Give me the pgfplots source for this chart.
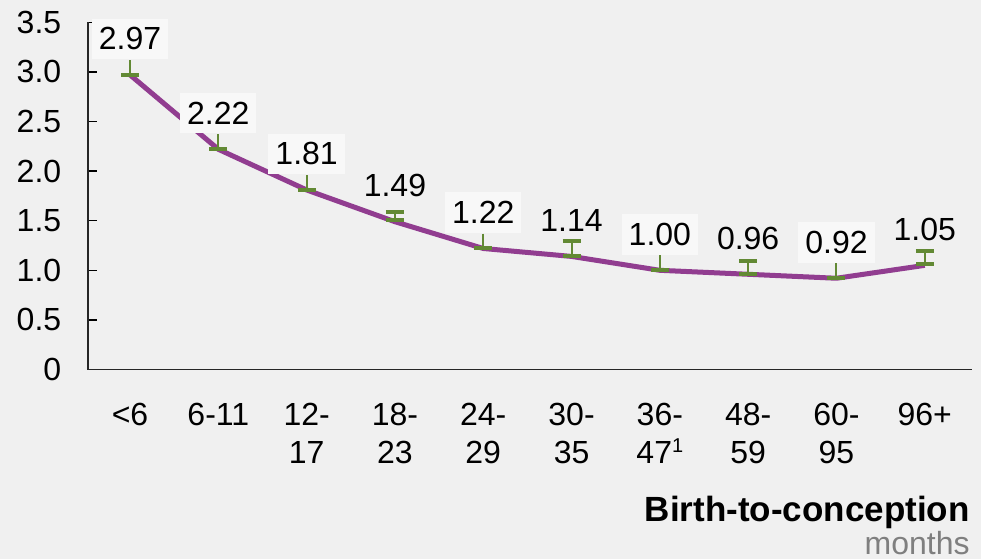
\documentclass[border=0pt]{standalone}
\usepackage{pgfplots}
\pgfplotsset{compat=1.18}
\usepackage{fontspec}
\setmainfont{Liberation Sans}
\definecolor{bg}{HTML}{F0F0F0}
\definecolor{labbg}{HTML}{F8F8F8}
\definecolor{linepurple}{RGB}{145,61,144}
\definecolor{errgreen}{RGB}{98,137,52}
\definecolor{monthgray}{HTML}{7F7F7F}
\newcommand{\lab}{\fontsize{16}{19}\selectfont}
\newcommand{\footsup}[1]{\raisebox{0.62ex}{\fontsize{10}{10}\selectfont #1}}

\begin{document}
\begin{tikzpicture}
\path[use as bounding box, fill=bg] (-44pt,-94.75pt) rectangle (446.5pt,184.75pt);
\begin{axis}[
    scale only axis,
    width=442pt, height=173.6pt,
    xmin=-0.476, xmax=9.535, ymin=0, ymax=3.5,
    axis x line*=bottom, axis y line*=left,
    axis line style={-, line width=0.8pt, black!85},
    tick align=inside, major tick length=4.5pt,
    ytick={0,0.5,1,1.5,2,2.5,3,3.5},
    yticklabels={0,0.5,1.0,1.5,2.0,2.5,3.0,3.5},
    ytick style={line width=0.7pt, black},
    xtick={0,...,9},
    xticklabels={{<6},{6-11},{12-\\17},{18-\\23},{24-\\29},{30-\\35},{36-\\47\footsup{1}},{48-\\59},{60-\\95},{96+}},
    xtick style={draw=none},
    x tick label style={font=\lab, align=center, anchor=north, inner sep=0pt, yshift=-16.6pt},
    y tick label style={font=\lab, anchor=east, inner sep=0pt, xshift=-13.2pt},
    clip=false,
  ]
  % main line
  \addplot[linepurple, line width=2.5pt, line join=round] coordinates {
    (0,2.97) (1,2.22) (2,1.81) (3,1.49) (4,1.22) (5,1.14) (6,1.00) (7,0.96) (8,0.92) (9,1.05)};
  % error bars, cap at bottom only
  \addplot[draw=none, mark=none,
    error bars/.cd, y dir=minus, y explicit,
    error bar style={draw=errgreen, line width=1pt},
    error mark options={rotate=90, draw=errgreen, line width=2pt, mark size=4.5pt}]
    coordinates {(0,3.12) +- (0,0.15) (1,2.37) +- (0,0.15) (2,1.96) +- (0,0.15)
                 (4,1.37) +- (0,0.15) (6,1.15) +- (0,0.15) (8,1.07) +- (0,0.15)};
  % error bars, both caps
  \addplot[draw=none, mark=none,
    error bars/.cd, y dir=both, y explicit,
    error bar style={draw=errgreen, line width=1pt},
    error mark options={rotate=90, draw=errgreen, line width=2pt, mark size=4.5pt}]
    coordinates {(3,1.549) +- (0,0.042) (5,1.221) +- (0,0.077)
                 (7,1.0285) +- (0,0.0685) (9,1.131) +- (0,0.067)};
  % value labels with box
  \addplot[draw=none, mark=none,
    nodes near coords={\pgfmathprintnumber[fixed,zerofill,precision=2,assume math mode=true]{\pgfplotspointmeta}},
    nodes near coords align={anchor=center},
    every node near coord/.append style={font=\lab, text=black, yshift=18pt, fill=labbg, inner xsep=3.5pt, inner ysep=4.5pt}]
    coordinates {(0,2.97) (1,2.22) (2,1.81) (4,1.22) (6,1.00) (8,0.92)};
  % value labels without box
  \addplot[draw=none, mark=none,
    nodes near coords={\pgfmathprintnumber[fixed,zerofill,precision=2,assume math mode=true]{\pgfplotspointmeta}},
    nodes near coords align={anchor=center},
    every node near coord/.append style={font=\lab, text=black, yshift=18pt, inner sep=0pt}]
    coordinates {(3,1.49) (5,1.14) (7,0.96) (9,1.05)};
\end{axis}
\node[anchor=base east, inner sep=0pt, font=\fontsize{17.5}{20}\selectfont\bfseries] at (441pt,-76.1pt) {Birth-to-conception};
\node[anchor=base east, inner sep=0pt, text=monthgray, font=\fontsize{16}{19}\selectfont] at (441pt,-92.6pt) {months};
\end{tikzpicture}
\end{document}
